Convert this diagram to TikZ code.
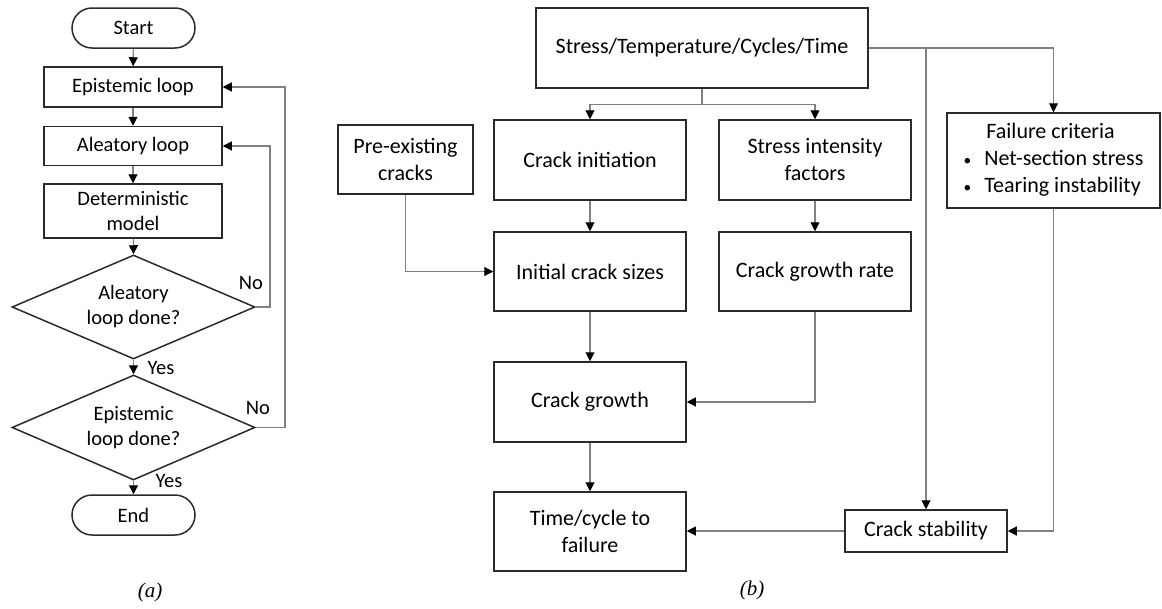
\documentclass[tikz,border=0pt]{standalone}
\usepackage{fontspec}
\setmainfont{Carlito}
\newfontfamily\capfont{Liberation Serif}
\usetikzlibrary{arrows.meta,shapes.geometric}
\definecolor{linegray}{HTML}{808080}
\definecolor{boxline}{HTML}{2A2A2A}
\tikzset{
  box/.style={draw=boxline, line width=1.5pt, rectangle, inner sep=0pt, align=center},
  leftbox/.style={box, font=\fontsize{20.5}{25}\selectfont},
  rightbox/.style={box, font=\fontsize{22}{27}\selectfont},
  terminal/.style={leftbox, rounded corners=20pt},
  decision/.style={draw=boxline, line width=1.5pt, diamond, aspect=2.34, inner sep=0pt,
    align=center, font=\fontsize{20.5}{25}\selectfont},
  conn/.style={draw=linegray, line width=1.1pt},
  arr/.style={conn, -{Triangle[length=9pt,width=9pt,color=black]}},
  lbl/.style={font=\fontsize{20.5}{25}\selectfont, inner sep=0pt},
  caption/.style={font=\capfont\itshape\fontsize{21}{25}\selectfont, inner sep=0pt}
}
\begin{document}
\begin{tikzpicture}[x=1pt, y=-1pt]
\useasboundingbox (0,0) rectangle (1162,608);

% ---- (a) double Monte Carlo loop ----
\node[terminal, minimum width=123pt, minimum height=40pt] (start) at (133.5,28) {Start};
\node[leftbox, minimum width=178pt, minimum height=40pt] (epi) at (133,87) {Epistemic loop};
\node[leftbox, minimum width=178pt, minimum height=39pt] (ale) at (133,146) {Aleatory loop};
\node[leftbox, minimum width=178pt, minimum height=54pt] (det) at (133,211) {Deterministic\\model};
\node[decision, minimum width=243pt, minimum height=104pt] (dale) at (133.5,307) {Aleatory\\loop done?};
\node[decision, minimum width=243pt, minimum height=105pt] (depi) at (133.5,427.5) {Epistemic\\loop done?};
\node[terminal, minimum width=123pt, minimum height=40pt] (end) at (133.5,515) {End};

\draw[arr] (start) -- (epi);
\draw[arr] (epi) -- (ale);
\draw[arr] (ale) -- (det);
\draw[arr] (det) -- (dale.north);
\draw[arr] (dale.south) -- (depi.north);
\draw[arr] (depi.south) -- (end);
\coordinate (loopa) at (270,307);
\coordinate (loopb) at (285,427.5);
\draw[arr] (dale.east) -- (loopa) |- (ale.east);
\draw[arr] (depi.east) -- (loopb) |- (epi.east);

\node[lbl] (noa) at (251,283) {No};
\node[lbl] (nob) at (258,408) {No};
\node[lbl] (yesa) at (161,368) {Yes};
\node[lbl] (yesb) at (169,481) {Yes};
\node[caption] (capa) at (150,592) {(a)};

% ---- (b) crack growth model ----
\node[rightbox, minimum width=332pt, minimum height=80pt] (stress) at (702,48) {Stress/Temperature/Cycles/Time};
\node[rightbox, minimum width=135pt, minimum height=69pt] (pre) at (405.5,159.5) {Pre-existing\\cracks};
\node[rightbox, minimum width=192pt, minimum height=80pt] (init) at (590,160) {Crack initiation};
\node[rightbox, minimum width=192pt, minimum height=80pt] (sif) at (815,160) {Stress intensity\\factors};
\node[rightbox, minimum width=192pt, minimum height=79pt] (size) at (590,271.5) {Initial crack sizes};
\node[rightbox, minimum width=192pt, minimum height=79pt] (rate) at (815,271.5) {Crack growth rate};
\node[rightbox, minimum width=192pt, minimum height=80pt] (growth) at (590,402) {Crack growth};
\node[rightbox, minimum width=192pt, minimum height=79pt] (life) at (590,531.5) {Time/cycle to\\failure};
\node[rightbox, minimum width=162pt, minimum height=42pt] (stab) at (926,531) {Crack stability};
\node[rightbox, minimum width=213pt, minimum height=95pt] (fail) at (1053.5,160.5)
  {\begin{tabular}{@{}l@{\hspace{13pt}}l@{}}
   & \hspace{2pt}Failure criteria\\
   \scalebox{0.7}{•} & Net-section stress\\
   \scalebox{0.7}{•} & Tearing instability
   \end{tabular}};

\draw[conn] (stress.south) -- ++(0,16) coordinate (branch);
\draw[arr] (branch) -| (init.north);
\draw[arr] (branch) -| (sif.north);
\draw[arr] (pre.south) |- (size.west);
\draw[arr] (init) -- (size);
\draw[arr] (sif) -- (rate);
\draw[arr] (size) -- (growth);
\draw[arr] (rate.south) |- (growth.east);
\draw[arr] (growth) -- (life);
\draw[arr] (stab.west) -- (stab.west -| life.east);
\draw[arr] (stress.east) -| (fail.north);
\draw[arr] (stab.north |- stress.east) -- (stab.north);
\draw[arr] (fail.south) |- (stab.east);

\node[caption] (capb) at (752,590) {(b)};
\end{tikzpicture}
\end{document}
